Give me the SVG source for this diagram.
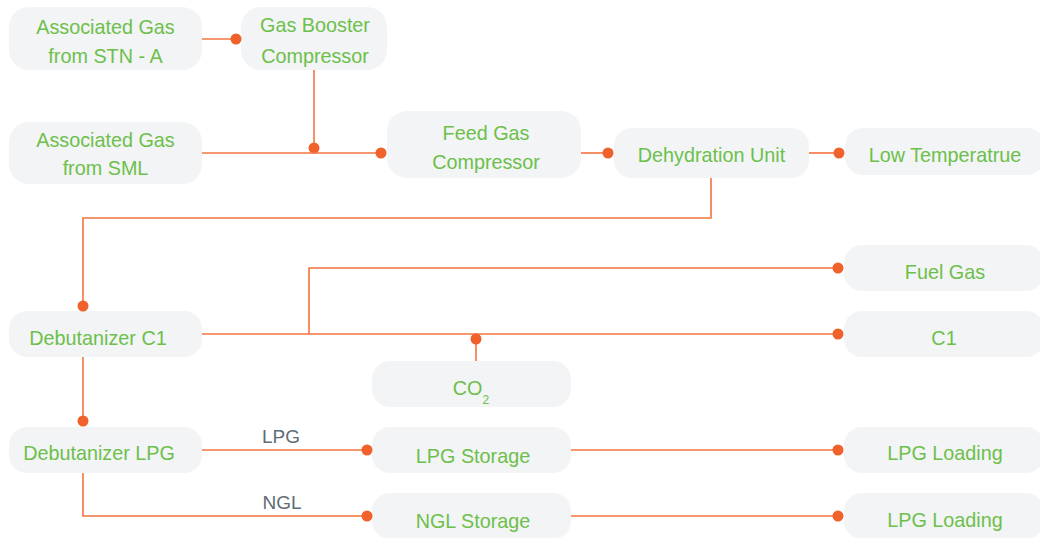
<svg xmlns="http://www.w3.org/2000/svg" width="1040" height="538" viewBox="0 0 1040 538">
  <style>
    .box { fill: #f3f4f6; }
    .lbl { font-family: "Liberation Sans", Arial, sans-serif; font-size: 19.8px; fill: #6cc04a; text-anchor: middle; }
    .sub { font-size: 12px; }
    .tag { font-family: "Liberation Sans", Arial, sans-serif; font-size: 19px; fill: #5f6b75; text-anchor: middle; }
    .wire { fill: none; stroke: #f4743f; stroke-width: 1.6; }
    .dot { fill: #f0612b; }
  </style>

  <!-- process units -->
  <g id="stn-a">
    <rect class="box" x="9" y="7" width="193" height="63" rx="20"/>
    <text class="lbl" x="105.5" y="34">Associated Gas</text>
    <text class="lbl" x="105.5" y="63">from STN - A</text>
  </g>
  <g id="gas-booster">
    <rect class="box" x="241" y="7" width="146" height="63" rx="20"/>
    <text class="lbl" x="315" y="32">Gas Booster</text>
    <text class="lbl" x="315" y="63">Compressor</text>
  </g>
  <g id="sml">
    <rect class="box" x="9" y="122" width="193" height="62" rx="20"/>
    <text class="lbl" x="105.5" y="147">Associated Gas</text>
    <text class="lbl" x="105.5" y="175">from SML</text>
  </g>
  <g id="feed-gas">
    <rect class="box" x="387" y="111" width="194" height="67" rx="20"/>
    <text class="lbl" x="486" y="140">Feed Gas</text>
    <text class="lbl" x="486" y="169">Compressor</text>
  </g>
  <g id="dehydration">
    <rect class="box" x="614" y="128" width="195" height="50" rx="18"/>
    <text class="lbl" x="711.5" y="162">Dehydration Unit</text>
  </g>
  <g id="low-temp">
    <rect class="box" x="845" y="128" width="200" height="47" rx="18"/>
    <text class="lbl" x="945" y="162">Low Temperatrue</text>
  </g>
  <g id="debutanizer-c1">
    <rect class="box" x="9" y="311" width="193" height="46" rx="18"/>
    <text class="lbl" x="98" y="345">Debutanizer C1</text>
  </g>
  <g id="fuel-gas">
    <rect class="box" x="844" y="245" width="200" height="46" rx="18"/>
    <text class="lbl" x="945" y="279">Fuel Gas</text>
  </g>
  <g id="c1">
    <rect class="box" x="844" y="311" width="200" height="46" rx="18"/>
    <text class="lbl" x="944" y="345">C1</text>
  </g>
  <g id="co2">
    <rect class="box" x="372" y="361" width="199" height="46" rx="18"/>
    <text class="lbl" x="471" y="395">CO<tspan class="sub" dy="9">2</tspan></text>
  </g>
  <g id="debutanizer-lpg">
    <rect class="box" x="9" y="427" width="193" height="46" rx="18"/>
    <text class="lbl" x="99" y="460">Debutanizer LPG</text>
  </g>
  <g id="lpg-storage">
    <rect class="box" x="372" y="427" width="199" height="46" rx="18"/>
    <text class="lbl" x="473" y="463">LPG Storage</text>
  </g>
  <g id="lpg-loading-1">
    <rect class="box" x="844" y="427" width="200" height="46" rx="18"/>
    <text class="lbl" x="945" y="460">LPG Loading</text>
  </g>
  <g id="ngl-storage">
    <rect class="box" x="372" y="493" width="199" height="46" rx="18"/>
    <text class="lbl" x="473" y="528">NGL Storage</text>
  </g>
  <g id="lpg-loading-2">
    <rect class="box" x="844" y="493" width="200" height="46" rx="18"/>
    <text class="lbl" x="945" y="527">LPG Loading</text>
  </g>

  <!-- flow lines -->
  <g id="connectors">
    <path class="wire" d="M202 39 H236"/>
    <circle class="dot" cx="236" cy="39" r="5.5"/>

    <path class="wire" d="M314 70 V148"/>
    <circle class="dot" cx="314" cy="148" r="5.5"/>

    <path class="wire" d="M202 153 H381"/>
    <circle class="dot" cx="381" cy="153" r="5.5"/>

    <path class="wire" d="M581 153 H608"/>
    <circle class="dot" cx="608" cy="153" r="5.5"/>

    <path class="wire" d="M809 153 H839"/>
    <circle class="dot" cx="839" cy="153" r="5.5"/>

    <path class="wire" d="M711 178 V218 H83 V306"/>
    <circle class="dot" cx="83" cy="306" r="5.5"/>

    <path class="wire" d="M202 334 H838"/>
    <circle class="dot" cx="838" cy="334" r="5.5"/>

    <path class="wire" d="M309 334 V268 H838"/>
    <circle class="dot" cx="838" cy="268" r="5.5"/>

    <path class="wire" d="M476 339 V361"/>
    <circle class="dot" cx="476" cy="339" r="5.5"/>

    <path class="wire" d="M83 357 V421"/>
    <circle class="dot" cx="83" cy="421" r="5.5"/>

    <path class="wire" d="M202 450 H367"/>
    <circle class="dot" cx="367" cy="450" r="5.5"/>
    <text class="tag" x="281" y="443">LPG</text>

    <path class="wire" d="M83 473 V516 H367"/>
    <circle class="dot" cx="367" cy="516" r="5.5"/>
    <text class="tag" x="282" y="509">NGL</text>

    <path class="wire" d="M571 450 H838"/>
    <circle class="dot" cx="838" cy="450" r="5.5"/>

    <path class="wire" d="M571 516 H838"/>
    <circle class="dot" cx="838" cy="516" r="5.5"/>
  </g>
</svg>
